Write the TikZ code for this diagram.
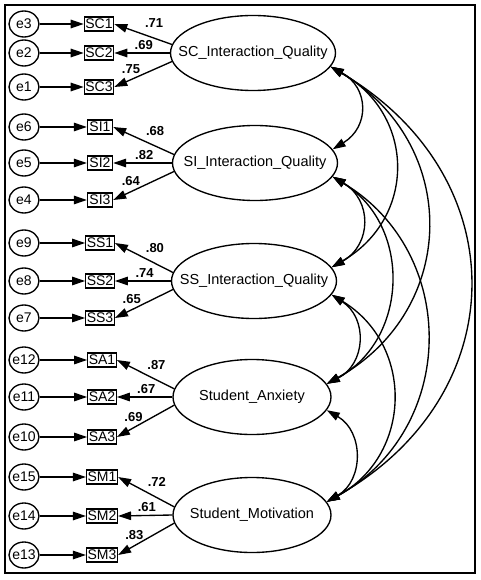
\documentclass[tikz,border=0pt]{standalone}
\usepackage{fontspec}
\setmainfont{Liberation Sans}
\usetikzlibrary{arrows.meta,shapes.geometric}

\begin{document}
\begin{tikzpicture}[x=1pt,y=-1pt,line width=1.35pt,>={Triangle[length=13pt,width=8.5pt]},
    err/.style={draw,ellipse,minimum width=30pt,minimum height=26pt,inner xsep=-2pt,inner ysep=0pt,font=\fontsize{14}{16}\selectfont},
    obs/.style={draw,rectangle,minimum width=25pt,minimum height=14pt,inner xsep=1pt,inner ysep=0pt,font=\fontsize{14}{15}\selectfont},
    lat/.style={draw,ellipse,minimum width=165pt,minimum height=75pt,inner sep=0pt,font=\fontsize{14.5}{16}\selectfont},
    lbl/.style={inner sep=1pt,font=\bfseries\fontsize{13}{14}\selectfont},
    cov/.style={<->,bend left=60}]
    \useasboundingbox (0,0) rectangle (480,580);
    \draw[line width=1.3pt] (5,5) rectangle (475,573);

    % latent variables
    \node[lat] (sc) at (253,53) {\makebox[0pt]{SC\_Interaction\_Quality}};
    \node[lat] (si) at (255,163) {\makebox[0pt]{SI\_Interaction\_Quality}};
    \node[lat] (ss) at (254,281) {\makebox[0pt]{SS\_Interaction\_Quality}};
    \node[lat,minimum width=158pt] (sa) at (252,397) {\makebox[0pt]{Student\_Anxiety}};
    \node[lat,minimum width=158pt] (sm) at (252,515) {\makebox[0pt]{Student\_Motivation}};

    % indicators
    \node[obs] (sc1) at (99,24) {SC1};
    \node[obs] (sc2) at (99,53) {SC2};
    \node[obs] (sc3) at (99,87) {SC3};
    \node[obs] (si1) at (100,127) {SI1};
    \node[obs] (si2) at (100,163) {SI2};
    \node[obs] (si3) at (100,200) {SI3};
    \node[obs] (ss1) at (100,243) {SS1};
    \node[obs] (ss2) at (100,281) {SS2};
    \node[obs] (ss3) at (100,318) {SS3};
    \node[obs] (sa1) at (102,360) {SA1};
    \node[obs] (sa2) at (102,397) {SA2};
    \node[obs] (sa3) at (102,437) {SA3};
    \node[obs] (sm1) at (102,477) {SM1};
    \node[obs] (sm2) at (102,516) {SM2};
    \node[obs] (sm3) at (102,555) {SM3};

    % error terms
    \node[err] (e3) at (24,24) {e3};
    \node[err] (e2) at (24,53) {e2};
    \node[err] (e1) at (24,87) {e1};
    \node[err] (e6) at (24,127) {e6};
    \node[err] (e5) at (24,163) {e5};
    \node[err] (e4) at (24,200) {e4};
    \node[err] (e9) at (24,243) {e9};
    \node[err] (e8) at (24,281) {e8};
    \node[err] (e7) at (24,318) {e7};
    \node[err] (e12) at (24,360) {e12};
    \node[err] (e11) at (24,397) {e11};
    \node[err] (e10) at (24,437) {e10};
    \node[err] (e15) at (24,477) {e15};
    \node[err] (e14) at (24,516) {e14};
    \node[err] (e13) at (24,555) {e13};

    \path[->]
    (e3) edge (sc1) (e2) edge (sc2) (e1) edge (sc3)
    (e6) edge (si1) (e5) edge (si2) (e4) edge (si3)
    (e9) edge (ss1) (e8) edge (ss2) (e7) edge (ss3)
    (e12) edge (sa1) (e11) edge (sa2) (e10) edge (sa3)
    (e15) edge (sm1) (e14) edge (sm2) (e13) edge (sm3)
    ;

    % loadings
    \path[->]
    (sc.174) edge node[lbl,pos=.31,above=9pt] {.71} (sc1.east)
    (sc.west) edge node[lbl,pos=.47,above=2pt] {.69} (sc2.east)
    (sc.186) edge node[lbl,pos=.71,above=4pt] {.75} (sc3.east)
    (si.174) edge node[lbl,pos=.31,above=9pt] {.68} (si1.east)
    (si.west) edge node[lbl,pos=.47,above=2pt] {.82} (si2.east)
    (si.186) edge node[lbl,pos=.71,above=4pt] {.64} (si3.east)
    (ss.174) edge node[lbl,pos=.31,above=9pt] {.80} (ss1.east)
    (ss.west) edge node[lbl,pos=.47,above=2pt] {.74} (ss2.east)
    (ss.186) edge node[lbl,pos=.71,above=4pt] {.65} (ss3.east)
    (sa.174) edge node[lbl,pos=.31,above=9pt] {.87} (sa1.east)
    (sa.west) edge node[lbl,pos=.47,above=2pt] {.67} (sa2.east)
    (sa.186) edge node[lbl,pos=.71,above=4pt] {.69} (sa3.east)
    (sm.174) edge node[lbl,pos=.31,above=9pt] {.72} (sm1.east)
    (sm.west) edge node[lbl,pos=.47,above=2pt] {.61} (sm2.east)
    (sm.186) edge node[lbl,pos=.71,above=4pt] {.83} (sm3.east)
    ;

    % covariances
    \path
    (sc.-10) edge[cov,looseness=1.35] (si.10)
    (sc.-10) edge[cov,looseness=1.25] (ss.10)
    (sc.-10) edge[cov,looseness=1.22] (sa.10)
    (sc.-10) edge[cov,looseness=1.27] (sm.10)
    (si.-10) edge[cov,looseness=1.3] (ss.10)
    (si.-10) edge[cov,looseness=1.15] (sa.10)
    (si.-10) edge[cov,looseness=1.17] (sm.10)
    (ss.-10) edge[cov,looseness=1.25] (sa.10)
    (ss.-10) edge[cov,looseness=1.2] (sm.10)
    (sa.-10) edge[cov,looseness=1.2] (sm.10)
    ;
\end{tikzpicture}
\end{document}
